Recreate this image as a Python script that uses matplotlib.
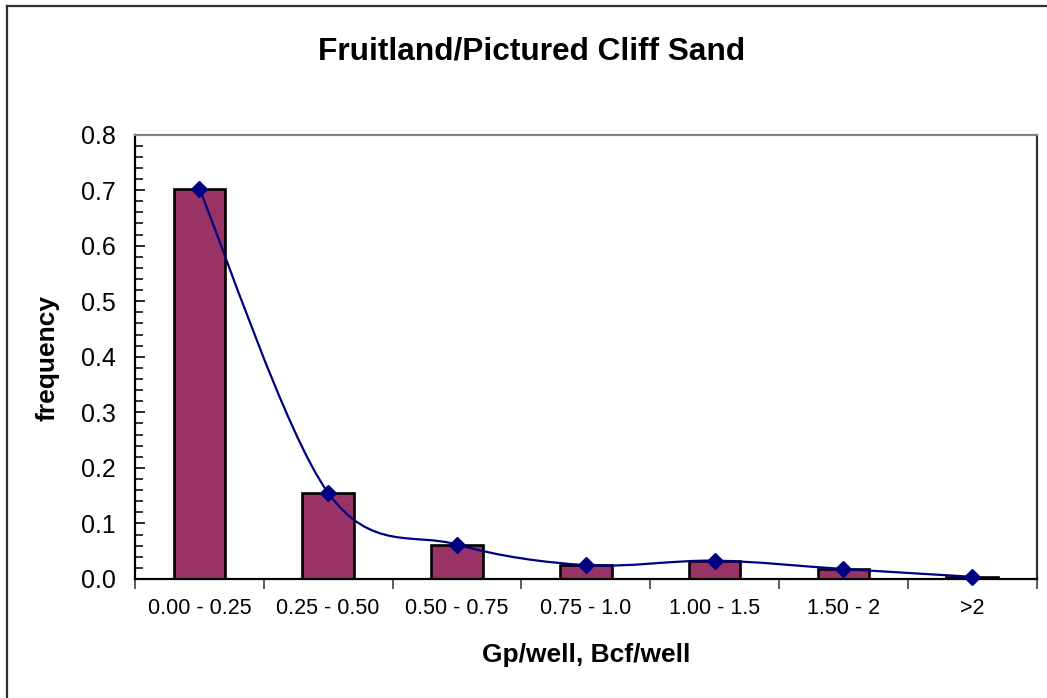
import matplotlib
matplotlib.use("Agg")
import matplotlib.pyplot as plt
from matplotlib.path import Path
from matplotlib.patches import PathPatch
from matplotlib.lines import Line2D
from matplotlib.ticker import MultipleLocator, FormatStrFormatter, FixedLocator, NullFormatter
import numpy as np

# Production bins and relative frequencies
categories = ["0.00 - 0.25", "0.25 - 0.50", "0.50 - 0.75", "0.75 - 1.0",
              "1.00 - 1.5", "1.50 - 2", ">2"]
frequency = [0.702, 0.155, 0.062, 0.025, 0.033, 0.018, 0.004]

title = "Fruitland/Pictured Cliff Sand"
x_title = "Gp/well, Bcf/well"
y_title = "frequency"

BAR_COLOR = "#993366"
LINE_COLOR = "#000080"

plt.rcParams["font.family"] = ["Liberation Sans", "DejaVu Sans"]

W, H = 1047, 698
fig = plt.figure(figsize=(W / 100, H / 100), dpi=100)

left, right, top, bottom = 135, 1036.5, 134.5, 579
ax = fig.add_axes([left / W, 1 - bottom / H, (right - left) / W, (bottom - top) / H])

x = np.arange(len(categories))
ax.bar(x, frequency, width=0.4, color=BAR_COLOR, edgecolor="black",
       linewidth=1.9, zorder=2)


def smooth_path(xs, ys):
    """Catmull-Rom style smoothed curve through the points as cubic Beziers."""
    pts = np.column_stack([xs, ys]).astype(float)
    n = len(pts)
    verts = [pts[0]]
    codes = [Path.MOVETO]
    for i in range(n - 1):
        p0 = pts[i - 1] if i > 0 else pts[i]
        p1 = pts[i]
        p2 = pts[i + 1]
        p3 = pts[i + 2] if i + 2 < n else pts[i + 1]
        c1 = p1 + (p2 - p0) / 6.0
        c2 = p2 - (p3 - p1) / 6.0
        verts += [c1, c2, p2]
        codes += [Path.CURVE4] * 3
    return Path(verts, codes)


ax.add_patch(PathPatch(smooth_path(x, frequency), facecolor="none",
                       edgecolor=LINE_COLOR, linewidth=1.6, zorder=3))
ax.plot(x, frequency, linestyle="none", marker="D", markersize=8,
        color=LINE_COLOR, zorder=4, clip_on=False)

ax.set_xlim(-0.5, len(categories) - 0.5)
ax.set_ylim(0, 0.8)

# y axis: majors every 0.1, minors every 0.02, ticks pointing inward
ax.yaxis.set_major_locator(MultipleLocator(0.1))
ax.yaxis.set_minor_locator(MultipleLocator(0.02))
ax.yaxis.set_major_formatter(FormatStrFormatter("%.1f"))
ax.tick_params(axis="y", which="major", direction="in", length=7, width=1.2,
               labelsize=18, pad=14, colors="black")
ax.tick_params(axis="y", which="minor", direction="in", length=5.5, width=1.1)

# x axis: ticks on category boundaries, labels at category centres
ax.xaxis.set_major_locator(FixedLocator(np.arange(-0.5, len(categories), 1.0)))
ax.xaxis.set_major_formatter(NullFormatter())
ax.xaxis.set_minor_locator(FixedLocator(x))
ax.set_xticklabels(categories, minor=True)
ax.tick_params(axis="x", which="major", direction="out", length=7, width=1.2,
               color="#404040")
ax.tick_params(axis="x", which="minor", length=0, labelsize=15.5, pad=14)

for side in ("left", "bottom"):
    ax.spines[side].set_color("black")
    ax.spines[side].set_linewidth(1.6)
ax.spines["top"].set_color("#808080")
ax.spines["top"].set_linewidth(1.6)
ax.spines["right"].set_color("#303030")
ax.spines["right"].set_linewidth(1.6)

fig.text(531.5 / W, 1 - 52 / H, title, fontsize=22.8, fontweight="bold",
         ha="center", va="center")
fig.text(586 / W, 1 - 655 / H, x_title, fontsize=19, fontweight="bold",
         ha="center", va="center")
fig.text(47 / W, 1 - 358 / H, y_title, fontsize=19, fontweight="bold",
         ha="center", va="center", rotation=90)

# chart area frame
fig.add_artist(Line2D([7 / W, 7 / W], [0, 1 - 6 / H], transform=fig.transFigure,
                      color="#303030", linewidth=1.6))
fig.add_artist(Line2D([7 / W, 1], [1 - 6 / H, 1 - 6 / H], transform=fig.transFigure,
                      color="#303030", linewidth=1.6))

fig.savefig("out.png", dpi=100)
